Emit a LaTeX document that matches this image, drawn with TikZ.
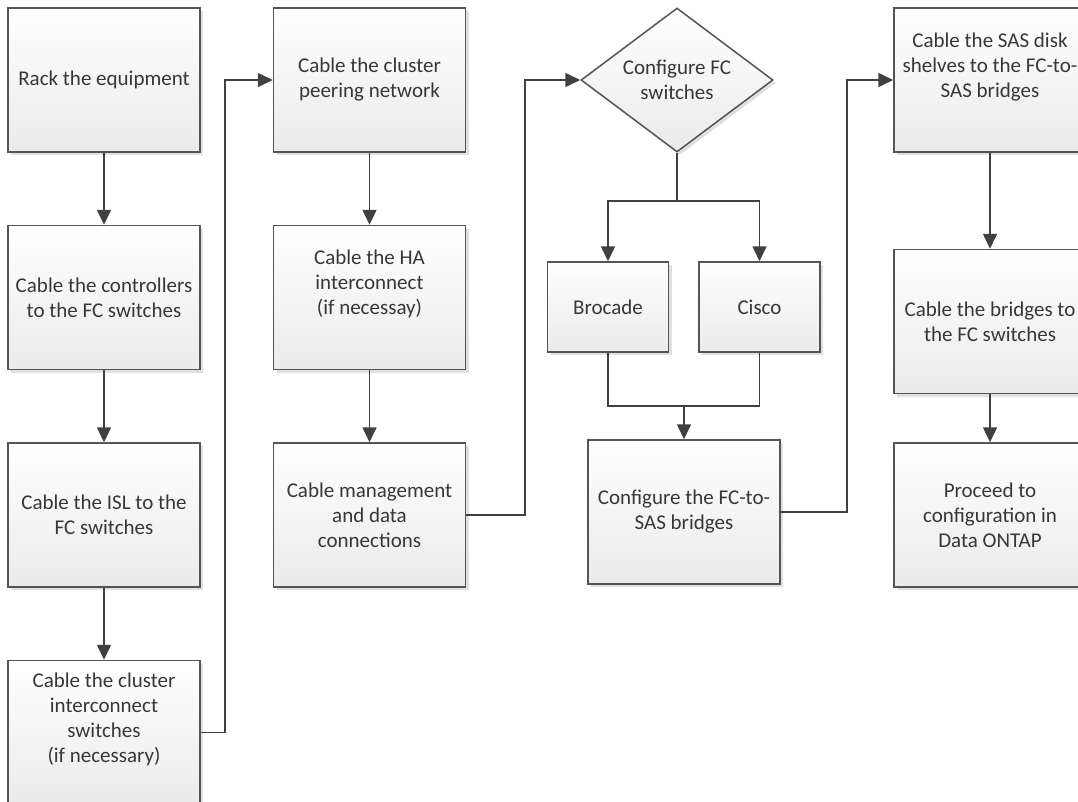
\documentclass[tikz,border=0pt]{standalone}
\usepackage{fontspec}
\setmainfont{Carlito}
\usetikzlibrary{positioning,shapes.geometric,arrows.meta,shadows}
\definecolor{linegray}{RGB}{64,64,64}
\definecolor{boxline}{RGB}{85,85,85}
\definecolor{textgray}{RGB}{55,55,55}

\begin{document}
\begin{tikzpicture}[
			x=1pt, y=1pt,
			every node/.style={font=\fontsize{21}{25}\selectfont, text=textgray},
			stepnode/.style={rectangle, draw=boxline, line width=1.5pt, top color=white, bottom color=black!8, drop shadow={shadow xshift=3pt, shadow yshift=-3pt, fill=black, opacity=0.12}, minimum width=192pt, minimum height=144pt, inner sep=2pt, align=center},
			choicenode/.style={stepnode, minimum width=121pt, minimum height=90pt},
			decisionnode/.style={diamond, shape aspect=1.333, draw=boxline, line width=1.5pt, top color=white, bottom color=black!8, drop shadow={shadow xshift=3pt, shadow yshift=-3pt, fill=black, opacity=0.12}, minimum width=192pt, minimum height=144pt, inner sep=0pt, align=center},
			raised/.style={text depth=30pt},
			connector/.style={draw=linegray, line width=1.6pt},
			flowarrow/.style={connector, -{Triangle[length=15pt, width=14pt]}},
			]
			\fill[white] (0,0) rectangle (1078,-801);
			\useasboundingbox (0,0) rectangle (1078,-801);

			%Column 1
			\node[stepnode] (rack) at (104,-80) {Rack the equipment};
			\node[stepnode] (ctrl)    [below=72pt of rack] {Cable the controllers\\to the FC switches};
			\node[stepnode] (isl)     [below=72pt of ctrl] {Cable the ISL to the\\FC switches};
			\node[stepnode, raised] (clusw) [below=72pt of isl] {Cable the cluster\\interconnect\\switches\\(if necessary)};

			%Column 2
			\node[stepnode] (peer)    [right=72pt of rack] {Cable the cluster\\peering network};
			\node[stepnode, raised] (hainter) [below=72pt of peer] {Cable the HA\\interconnect\\(if necessay)};
			\node[stepnode] (mgmt)    [below=72pt of hainter] {Cable management\\and data\\connections};

			%Column 3
			\node[decisionnode] (fcsw) [right=114pt of peer] {Configure FC\\switches};
			\node[choicenode] (brocade) at (608,-307) {Brocade};
			\node[choicenode] (cisco)   [right=29pt of brocade] {Cisco};
			\node[stepnode] (bridgecfg) at (684,-512) {Configure the FC-to-\\SAS bridges};

			%Column 4
			\node[stepnode, raised] (sasshelf) at (990,-80) {Cable the SAS disk\\shelves to the FC-to-\\SAS bridges};
			\node[stepnode] (bridgefc) [below=96pt of sasshelf] {Cable the bridges to\\the FC switches};
			\node[stepnode] (ontap)    [below=48pt of bridgefc] {Proceed to\\configuration in\\Data ONTAP};

			%Connectors
			\draw[flowarrow] (rack) -- (ctrl);
			\draw[flowarrow] (ctrl) -- (isl);
			\draw[flowarrow] (isl) -- (clusw);
			\draw[flowarrow] (clusw.east) -- ++(24,0) |- (peer.west);
			\draw[flowarrow] (peer) -- (hainter);
			\draw[flowarrow] (hainter) -- (mgmt);
			\draw[flowarrow] (mgmt.east) -- ++(59,0) |- (fcsw.west);
			\draw[connector] (fcsw.south) -- ++(0,-48) coordinate (fork);
			\draw[flowarrow] (fork) -| (brocade.north);
			\draw[flowarrow] (fork) -| (cisco.north);
			\coordinate[above=33pt of bridgecfg.north] (merge);
			\draw[connector] (brocade.south) |- (merge) -| (cisco.south);
			\draw[flowarrow] (merge) -- (bridgecfg.north);
			\draw[flowarrow] (bridgecfg.east) -- ++(66,0) |- (sasshelf.west);
			\draw[flowarrow] (sasshelf) -- (bridgefc);
			\draw[flowarrow] (bridgefc) -- (ontap);
		\end{tikzpicture}
\end{document}
